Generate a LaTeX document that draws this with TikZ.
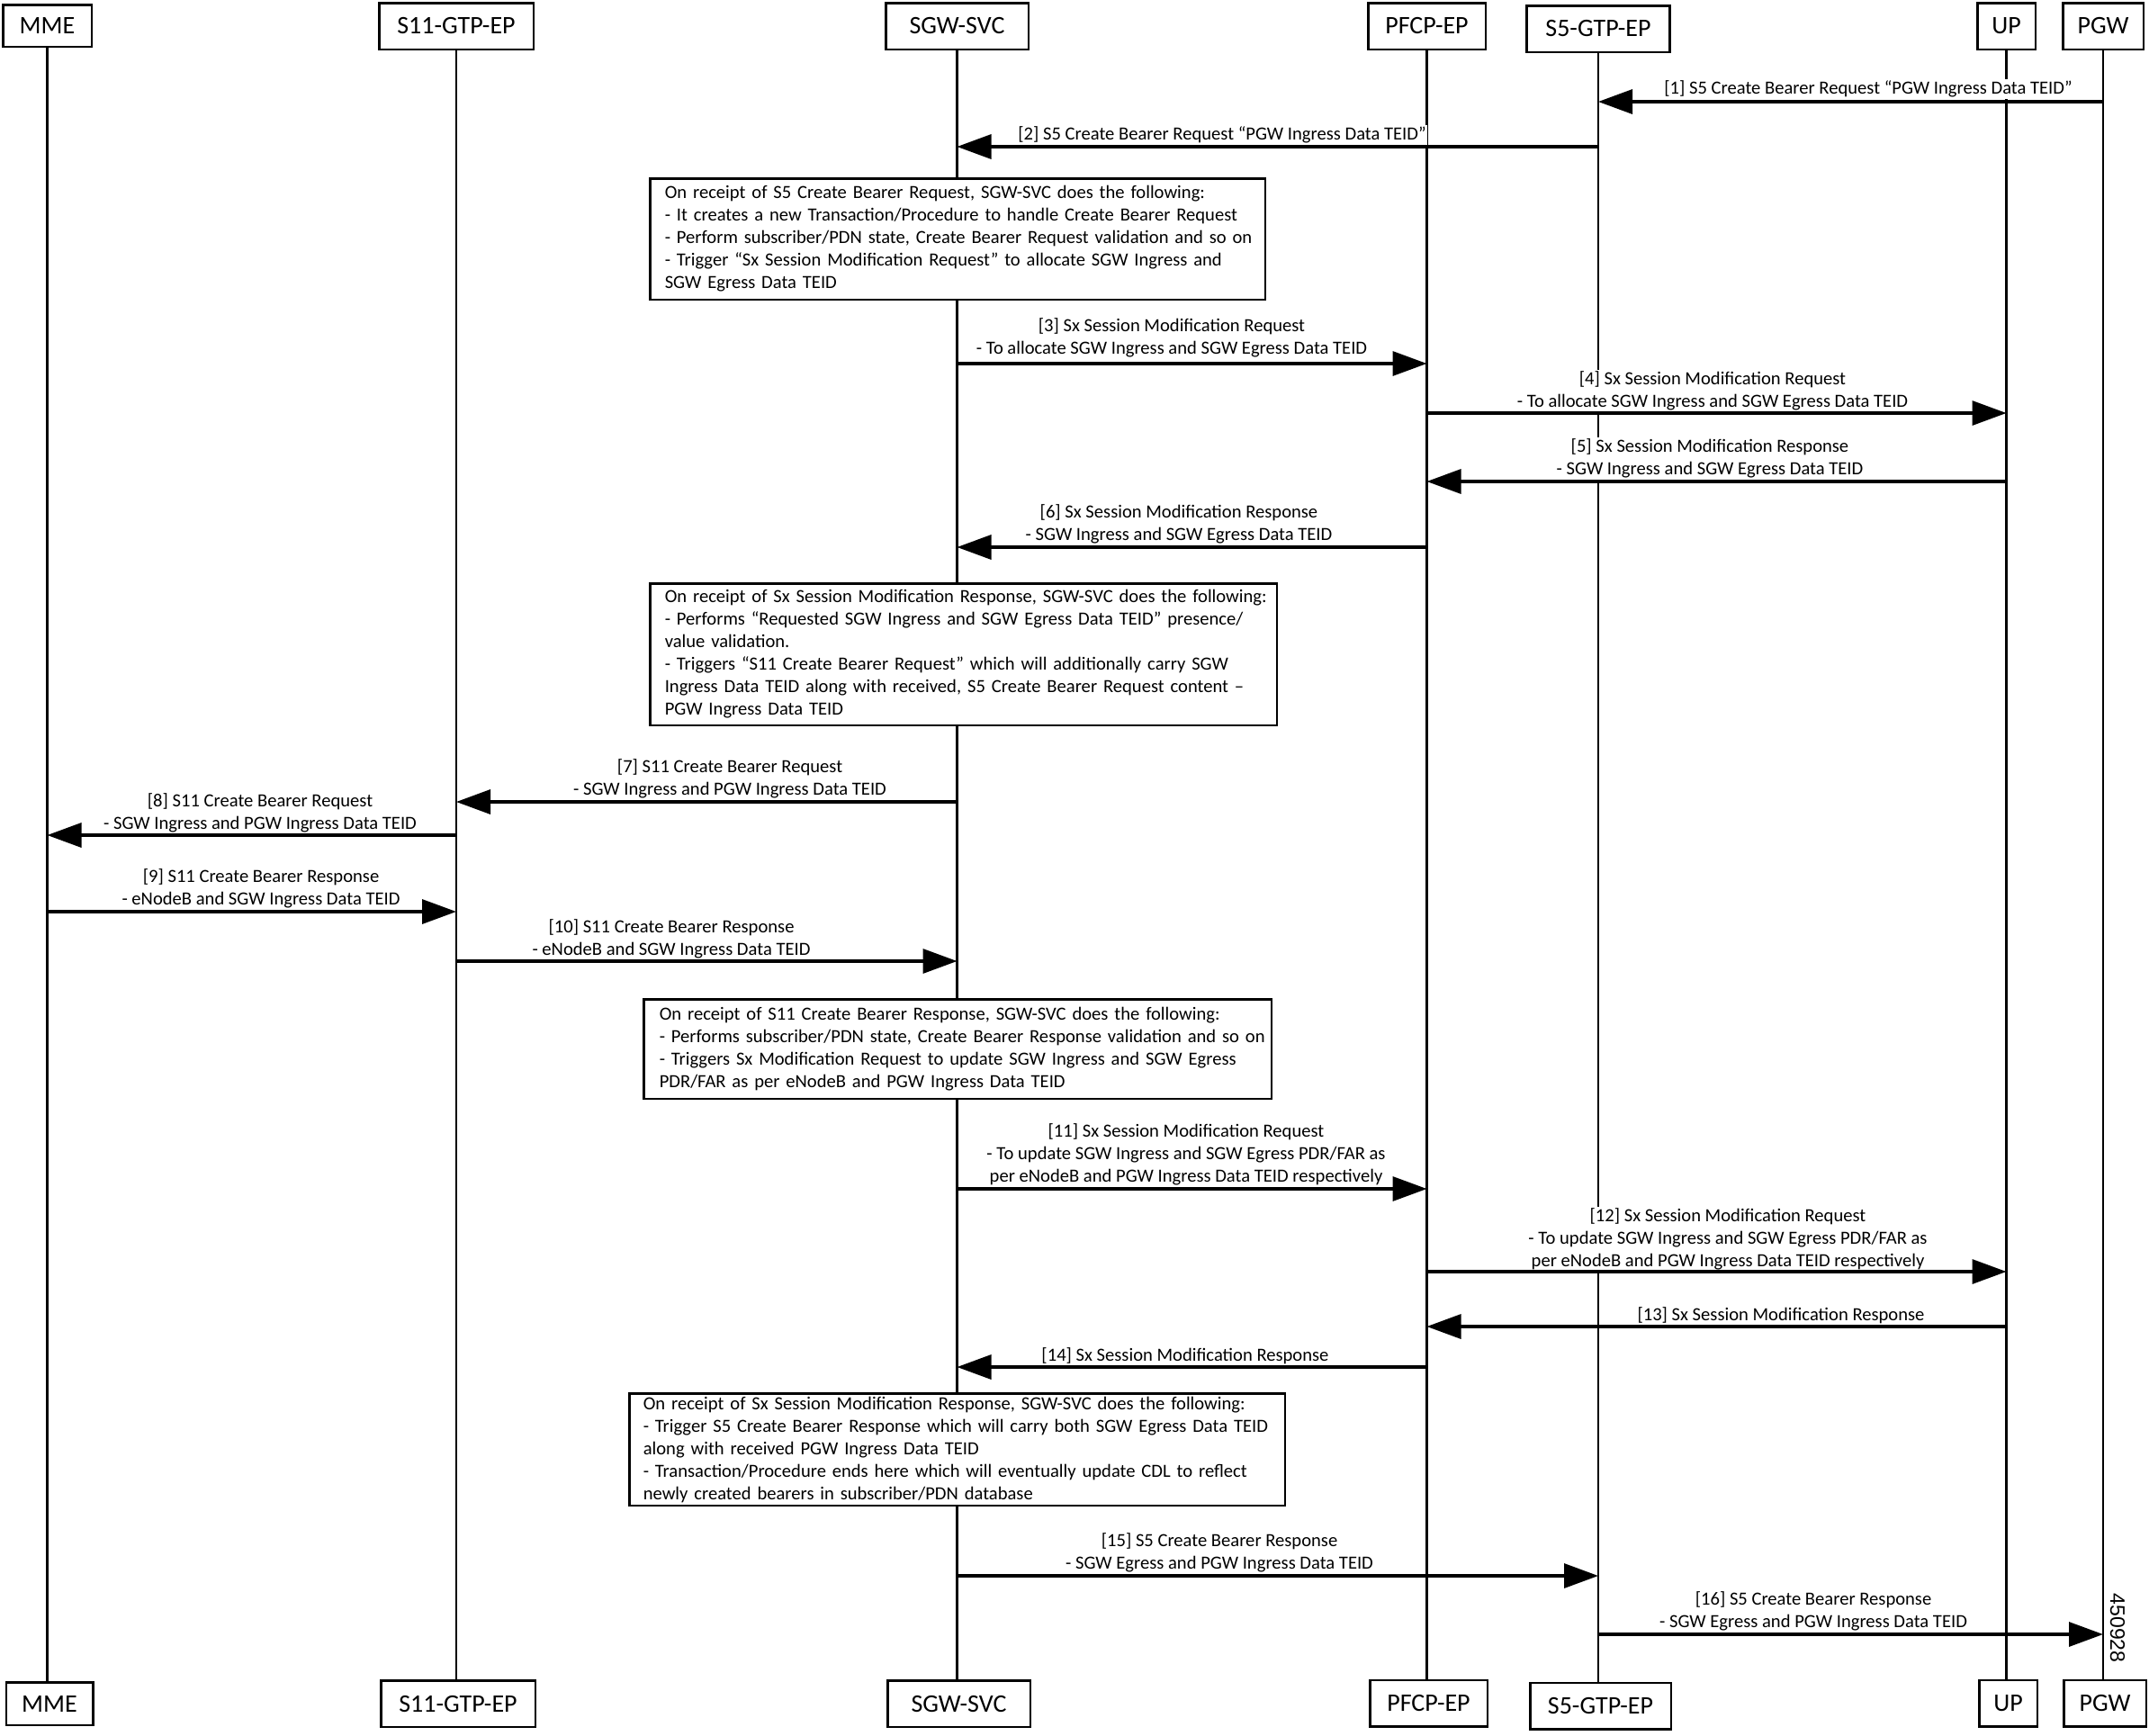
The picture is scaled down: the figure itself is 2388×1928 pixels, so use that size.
\documentclass[tikz,border=0pt]{standalone}
\usepackage{fontspec}
\setmainfont{Carlito}
\newfontfamily\numfont{Liberation Sans}
\usetikzlibrary{arrows.meta}
\begin{document}
\begin{tikzpicture}[x=1pt,y=-1pt,
  actor/.style={draw, line width=2.5pt, fill=white, inner sep=0pt, font=\fontsize{28}{34}\selectfont, minimum height=51.5pt},
  life/.style={line width=2.2pt},
  msg/.style={line width=3.3pt, -{Triangle[length=38pt,width=27pt]}},
  lbl/.style={fill=white, inner sep=1.5pt, align=center, font=\fontsize{20.6}{25}\selectfont},
  note/.style={draw, line width=2.5pt, fill=white, align=left, inner xsep=16.5pt, inner ysep=0pt, font=\fontsize{20.6}{25}\selectfont},
  fignum/.style={font=\numfont\fontsize{23}{28}\selectfont, rotate=-90, inner sep=0pt}]
\fill[white] (0,0) rectangle (2388,1928);
\useasboundingbox (0,0) rectangle (2388,1928);

% top actor boxes
\node[actor, minimum width=98.5pt, minimum height=46.5pt] (mmeT) at (52.5,28.5) {MME};
\node[actor, minimum width=171.5pt] (s11T) at (507,29) {S11-GTP-EP};
\node[actor, minimum width=158.5pt] (sgwT) at (1063.5,29) {SGW-SVC};
\node[actor, minimum width=130.5pt] (pfcpT) at (1585.5,29) {PFCP-EP};
\node[actor, minimum width=159pt] (s5T) at (1776,32) {S5-GTP-EP};
\node[actor, minimum width=64.5pt] (upT) at (2229.5,29) {UP};
\node[actor, minimum width=89.5pt] (pgwT) at (2337,29) {PGW};

% bottom actor boxes
\node[actor, minimum width=96.5pt, minimum height=47.5pt] (mmeB) at (55,1893) {MME};
\node[actor, minimum width=171.5pt] (s11B) at (509,1893) {S11-GTP-EP};
\node[actor, minimum width=158.5pt] (sgwB) at (1065.5,1893) {SGW-SVC};
\node[actor, minimum width=130.5pt] (pfcpB) at (1587.5,1892.5) {PFCP-EP};
\node[actor, minimum width=156.5pt] (s5B) at (1778.5,1895.5) {S5-GTP-EP};
\node[actor, minimum width=64.5pt] (upB) at (2231.5,1892.5) {UP};
\node[actor, minimum width=91.5pt] (pgwB) at (2339,1892.5) {PGW};

% lifelines
\foreach \a in {mme,s11,sgw,pfcp,s5,up,pgw}
  \draw[life] (\a T.south) -- (\a T.south |- \a B.north);

% notes
\node[note, text width=650.5pt, minimum height=134.5pt] (n1) at (1064,265.5) {%
\mbox{On receipt of S5 Create Bearer Request, SGW-SVC does the following:}\\
\mbox{- It creates a new Transaction/Procedure to handle Create Bearer Request}\\
\mbox{- Perform subscriber/PDN state, Create Bearer Request validation and so on}\\
\mbox{- Trigger “Sx Session Modification Request” to allocate SGW Ingress and}\\
\mbox{SGW Egress Data TEID}};
\node[note, text width=663.5pt, minimum height=157.5pt] (n2) at (1070.5,727) {%
\mbox{On receipt of Sx Session Modification Response, SGW-SVC does the following:}\\
\mbox{- Performs “Requested SGW Ingress and SGW Egress Data TEID” presence/}\\
\mbox{value validation.}\\
\mbox{- Triggers “S11 Create Bearer Request” which will additionally carry SGW}\\
\mbox{Ingress Data TEID along with received, S5 Create Bearer Request content –}\\
\mbox{PGW Ingress Data TEID}};
\node[note, text width=662.5pt, inner xsep=17.5pt, minimum height=110.5pt] (n3) at (1064,1165.5) {%
\mbox{On receipt of S11 Create Bearer Response, SGW-SVC does the following:}\\
\mbox{- Performs subscriber/PDN state, Create Bearer Response validation and so on}\\
\mbox{- Triggers Sx Modification Request to update SGW Ingress and SGW Egress}\\
\mbox{PDR/FAR as per eNodeB and PGW Ingress Data TEID}};
\node[note, text width=697.5pt, inner xsep=15.5pt, minimum height=124.5pt] (n4) at (1063.5,1610.5) {%
\mbox{On receipt of Sx Session Modification Response, SGW-SVC does the following:}\\
\mbox{- Trigger S5 Create Bearer Response which will carry both SGW Egress Data TEID}\\
\mbox{along with received PGW Ingress Data TEID}\\
\mbox{- Transaction/Procedure ends here which will eventually update CDL to reflect}\\
\mbox{newly created bearers in subscriber/PDN database}};

% message labels
\node[lbl] (l1) at (2076,99) {[1] S5 Create Bearer Request “PGW Ingress Data TEID”};
\node[lbl] (l2) at (1358,150) {[2] S5 Create Bearer Request “PGW Ingress Data TEID”};
\node[lbl] (l3) at (1302,375) {[3] Sx Session Modification Request\\- To allocate SGW Ingress and SGW Egress Data TEID};
\node[lbl] (l4) at (1903,434.5) {[4] Sx Session Modification Request\\- To allocate SGW Ingress and SGW Egress Data TEID};
\node[lbl] (l5) at (1900,509.5) {[5] Sx Session Modification Response\\- SGW Ingress and SGW Egress Data TEID};
\node[lbl] (l6) at (1310,582.5) {[6] Sx Session Modification Response\\- SGW Ingress and SGW Egress Data TEID};
\node[lbl] (l7) at (811,865.5) {[7] S11 Create Bearer Request\\- SGW Ingress and PGW Ingress Data TEID};
\node[lbl] (l8) at (289,903.5) {[8] S11 Create Bearer Request\\- SGW Ingress and PGW Ingress Data TEID};
\node[lbl] (l9) at (290,987.5) {[9] S11 Create Bearer Response\\- eNodeB and SGW Ingress Data TEID};
\node[lbl] (l10) at (746,1043.5) {[10] S11 Create Bearer Response\\- eNodeB and SGW Ingress Data TEID};
\node[lbl] (l11) at (1318,1283) {[11] Sx Session Modification Request\\- To update SGW Ingress and SGW Egress PDR/FAR as\\per eNodeB and PGW Ingress Data TEID respectively};
\node[lbl] (l12) at (1920,1376.5) {[12] Sx Session Modification Request\\- To update SGW Ingress and SGW Egress PDR/FAR as\\per eNodeB and PGW Ingress Data TEID respectively};
\node[lbl] (l13) at (1979,1462) {[13] Sx Session Modification Response};
\node[lbl] (l14) at (1317,1507) {[14] Sx Session Modification Response};
\node[lbl] (l15) at (1355,1725.5) {[15] S5 Create Bearer Response\\- SGW Egress and PGW Ingress Data TEID};
\node[lbl] (l16) at (2015,1790.5) {[16] S5 Create Bearer Response\\- SGW Egress and PGW Ingress Data TEID};

% message rows
\coordinate (r1) at (0,113);
\coordinate (r2) at (0,163);
\coordinate (r3) at (0,404);
\coordinate (r4) at (0,459);
\coordinate (r5) at (0,535);
\coordinate (r6) at (0,608);
\coordinate (r7) at (0,891);
\coordinate (r8) at (0,928);
\coordinate (r9) at (0,1013);
\coordinate (r10) at (0,1068);
\coordinate (r11) at (0,1321);
\coordinate (r12) at (0,1413);
\coordinate (r13) at (0,1474);
\coordinate (r14) at (0,1519);
\coordinate (r15) at (0,1751);
\coordinate (r16) at (0,1816);

% messages
\draw[msg] (pgwT |- r1) -- (s5T |- r1);
\draw[msg] (s5T |- r2) -- (sgwT |- r2);
\draw[msg] (sgwT |- r3) -- (pfcpT |- r3);
\draw[msg] (pfcpT |- r4) -- (upT |- r4);
\draw[msg] (upT |- r5) -- (pfcpT |- r5);
\draw[msg] (pfcpT |- r6) -- (sgwT |- r6);
\draw[msg] (sgwT |- r7) -- (s11T |- r7);
\draw[msg] (s11T |- r8) -- (mmeT |- r8);
\draw[msg] (mmeT |- r9) -- (s11T |- r9);
\draw[msg] (s11T |- r10) -- (sgwT |- r10);
\draw[msg] (sgwT |- r11) -- (pfcpT |- r11);
\draw[msg] (pfcpT |- r12) -- (upT |- r12);
\draw[msg] (upT |- r13) -- (pfcpT |- r13);
\draw[msg] (pfcpT |- r14) -- (sgwT |- r14);
\draw[msg] (sgwT |- r15) -- (s5T |- r15);
\draw[msg] (s5T |- r16) -- (pgwT |- r16);

% figure number
\node[fignum] (fig) at (2353,1809) {450928};
\end{tikzpicture}
\end{document}
